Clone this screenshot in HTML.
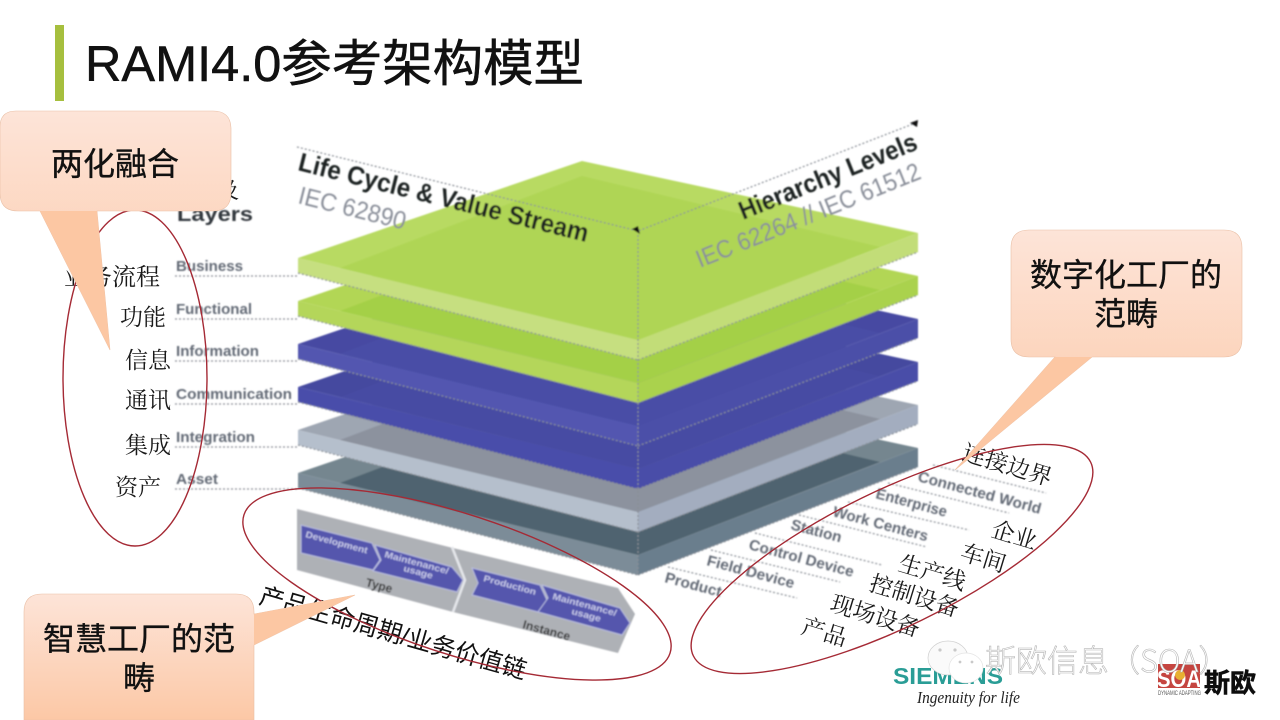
<!DOCTYPE html>
<html><head><meta charset="utf-8"><style>
html,body{margin:0;padding:0;background:#fff}
svg{display:block}
.s{font-family:"Liberation Sans","Noto Sans CJK SC",sans-serif}
.z{font-family:"Liberation Serif","Noto Serif CJK SC",serif;fill:#1a1a1a;font-size:23px}
.g{font-family:"Liberation Sans",sans-serif;font-weight:bold;fill:#636a76;font-size:15px}
.d{stroke:#8a8f96;stroke-width:1.2;stroke-dasharray:2 2;fill:none}
.w{font-family:"Liberation Sans",sans-serif;font-size:9px;fill:#c6c8e8;font-weight:bold}
.c{font-family:"Liberation Sans","Noto Sans CJK SC",sans-serif;font-size:32px;fill:#111;text-anchor:middle;stroke:#111;stroke-width:.35}
</style></head><body>
<svg width="1280" height="720" viewBox="0 0 1280 720" xmlns="http://www.w3.org/2000/svg">
<defs>
<linearGradient id="pe" x1="0" y1="0" x2="0" y2="1"><stop offset="0" stop-color="#fde4d8"/><stop offset="1" stop-color="#fcc8a6"/></linearGradient>
<filter id="b" x="-5%" y="-5%" width="110%" height="110%"><feGaussianBlur stdDeviation="0.7"/></filter>
<filter id="b2" x="-5%" y="-5%" width="110%" height="110%"><feGaussianBlur stdDeviation="0.35"/></filter>
</defs>
<rect width="1280" height="720" fill="#fff"/>
<rect x="55" y="25" width="9" height="76" fill="#a6bf3e"/>
<text x="85" y="81" class="s" font-size="50" fill="#111" stroke="#111" stroke-width=".5" textLength="499" lengthAdjust="spacingAndGlyphs">RAMI4.0参考架构模型</text>

<g filter="url(#b)">
<!-- plates -->
<g transform="translate(0,215)"><polygon points="298,258 582,161 918,233 638,340" fill="#75868f"/><polygon points="340,268 582,176 880,247 638,340" fill="#50636f"/><polygon points="298,258 638,340 638,360 298,273" fill="#7b8c98"/><polygon points="638,340 918,233 918,252 638,360" fill="#6b7e8d"/></g>
<g transform="translate(0,172)"><polygon points="298,258 582,161 918,233 638,340" fill="#9ea6b2"/><polygon points="340,268 582,176 880,247 638,340" fill="#8c929e"/><polygon points="298,258 638,340 638,360 298,273" fill="#b5bfcc"/><polygon points="638,340 918,233 918,252 638,360" fill="#a3adbf"/></g>
<g transform="translate(0,129)"><polygon points="298,258 582,161 918,233 638,340" fill="#44489f"/><polygon points="340,268 582,176 880,247 638,340" fill="#474ba3"/><polygon points="298,258 638,340 638,360 298,273" fill="#4a4eaa"/><polygon points="638,340 918,233 918,252 638,360" fill="#4a4ea8"/></g>
<g transform="translate(0,86)"><polygon points="298,258 582,161 918,233 638,340" fill="#464aa2"/><polygon points="340,268 582,176 880,247 638,340" fill="#4a4ea6"/><polygon points="298,258 638,340 638,360 298,273" fill="#5357b0"/><polygon points="638,340 918,233 918,252 638,360" fill="#4c50a8"/></g>
<g transform="translate(0,43)"><polygon points="298,258 582,161 918,233 638,340" fill="#b2d655"/><polygon points="340,268 582,176 880,247 638,340" fill="#a4d047"/><polygon points="298,258 638,340 638,360 298,273" fill="#b4d65a"/><polygon points="638,340 918,233 918,252 638,360" fill="#aad24d"/></g>
<g><polygon points="298,258 582,161 918,233 638,340" fill="#b8da62"/><polygon points="340,268 582,176 880,247 638,340" fill="#afd555"/><polygon points="298,258 638,340 638,360 298,273" fill="#c6df80"/><polygon points="638,340 918,233 918,252 638,360" fill="#c2dd78"/></g>

<!-- axes -->
<path class="d" d="M297,147 L638,231 L918,122 M638,231 L638,575"/>
<path class="d" d="M638,360 L918,252 M298,273 L638,360 M638,403 L918,295 M298,316 L638,403 M638,446 L918,338 M298,359 L638,446 M638,489 L918,381 M298,402 L638,489 M638,532 L918,424 M298,445 L638,532 M638,575 L918,467 M298,488 L638,575"/>
<polygon points="632,229 638,226 640,234" fill="#111"/>
<polygon points="910,123 918,120 917,127" fill="#111"/>

<!-- left dotted -->
<path class="d" d="M175,276 H298 M175,319 H298 M175,361 H298 M175,404 H298 M175,447 H298 M175,489 H298"/>
<text x="177" y="221" class="s" font-size="20" font-weight="bold" fill="#33373d" textLength="76" lengthAdjust="spacingAndGlyphs">Layers</text>
<text class="g" x="176" y="271" textLength="67" lengthAdjust="spacingAndGlyphs">Business</text>
<text class="g" x="176" y="314" textLength="76" lengthAdjust="spacingAndGlyphs">Functional</text>
<text class="g" x="176" y="356" textLength="83" lengthAdjust="spacingAndGlyphs">Information</text>
<text class="g" x="176" y="399" textLength="116" lengthAdjust="spacingAndGlyphs">Communication</text>
<text class="g" x="176" y="442" textLength="79" lengthAdjust="spacingAndGlyphs">Integration</text>
<text class="g" x="176" y="484" textLength="42" lengthAdjust="spacingAndGlyphs">Asset</text>

<!-- axis labels -->
<text transform="translate(297,170) rotate(14)" class="s" font-size="26" font-weight="bold" fill="#1c2320" textLength="298" lengthAdjust="spacingAndGlyphs">Life Cycle &amp; Value Stream</text>
<text transform="translate(297,203) rotate(14)" class="s" font-size="25" fill="#8a8f9a" textLength="110" lengthAdjust="spacingAndGlyphs">IEC 62890</text>
<text transform="translate(743,220) rotate(-22)" class="s" font-size="26" font-weight="bold" fill="#1c2320" textLength="190" lengthAdjust="spacingAndGlyphs">Hierarchy Levels</text>
<text transform="translate(700,268) rotate(-22)" class="s" font-size="25" fill="#8a8f9a" textLength="240" lengthAdjust="spacingAndGlyphs">IEC 62264 // IEC 61512</text>

<!-- right dotted -->
<path class="d" d="M933,465 L1046,493 M888,483 L1009,513 M848,502 L969,530 M799,515 L927,547 M755,533 L882,565 M711,550 L840,582 M668,567 L797,598"/>
<text class="g" transform="translate(917,481) rotate(15)" font-size="17" textLength="127" lengthAdjust="spacingAndGlyphs">Connected World</text>
<text class="g" transform="translate(875,498) rotate(15)" font-size="16" textLength="73" lengthAdjust="spacingAndGlyphs">Enterprise</text>
<text class="g" transform="translate(832,516) rotate(15)" font-size="16" textLength="98" lengthAdjust="spacingAndGlyphs">Work Centers</text>
<text class="g" transform="translate(790,529) rotate(15)" font-size="16" textLength="52" lengthAdjust="spacingAndGlyphs">Station</text>
<text class="g" transform="translate(748,549) rotate(15)" font-size="16" textLength="108" lengthAdjust="spacingAndGlyphs">Control Device</text>
<text class="g" transform="translate(706,565) rotate(15)" font-size="16" textLength="90" lengthAdjust="spacingAndGlyphs">Field Device</text>
<text class="g" transform="translate(664,582) rotate(15)" font-size="16" textLength="58" lengthAdjust="spacingAndGlyphs">Product</text>

<!-- bottom band -->
<polygon points="297,509 453,548 618,588 635,614 618,653 453,612 297,570" fill="#aeb1b6"/>
<path d="M452,547 L465,580 L453,612" fill="none" stroke="#e4e6ea" stroke-width="2.5"/>
<g stroke="#b9bde0" stroke-width="1">
<polygon points="301,525 372,543 380,560 373,570 301,553" fill="#5556ad"/>
<polygon points="375,545 452,567 463,580 457,592 373,571 381,560" fill="#5556ad"/>
<polygon points="472,568 540,585 547,600 538,612 472,595 478,583" fill="#5556ad"/>
<polygon points="542,585 620,608 630,623 622,635 538,612 548,598" fill="#5556ad"/>
</g>
<text class="w" transform="translate(305,537) rotate(15)" textLength="64" lengthAdjust="spacingAndGlyphs">Development</text>
<text class="w" transform="translate(384,557) rotate(15)" textLength="66" lengthAdjust="spacingAndGlyphs">Maintenance/</text>
<text class="w" transform="translate(403,571) rotate(15)" textLength="30" lengthAdjust="spacingAndGlyphs">usage</text>
<text class="w" transform="translate(483,581) rotate(15)" textLength="54" lengthAdjust="spacingAndGlyphs">Production</text>
<text class="w" transform="translate(552,599) rotate(15)" textLength="66" lengthAdjust="spacingAndGlyphs">Maintenance/</text>
<text class="w" transform="translate(571,614) rotate(15)" textLength="30" lengthAdjust="spacingAndGlyphs">usage</text>
<text transform="translate(365,586) rotate(15)" class="s" font-size="12" font-weight="bold" fill="#333">Type</text>
<text transform="translate(522,628) rotate(15)" class="s" font-size="12" font-weight="bold" fill="#333">Instance</text>
</g>

<!-- Chinese labels -->
<text class="z" x="64" y="285" style="font-size:24px">业务流程</text>
<text class="z" x="120" y="325">功能</text>
<text class="z" x="125" y="368">信息</text>
<text class="z" x="125" y="408">通讯</text>
<text class="z" x="125" y="453">集成</text>
<text class="z" x="115" y="495">资产</text>
<text class="z" x="217" y="198" style="font-size:22px">及</text>
<g class="z">
<text class="z" transform="translate(961,459) rotate(17)">连接边界</text>
<text class="z" transform="translate(990,536) rotate(17)">企业</text>
<text class="z" transform="translate(959,559) rotate(17)">车间</text>
<text class="z" transform="translate(897,570) rotate(17)">生产线</text>
<text class="z" transform="translate(868,590) rotate(17)">控制设备</text>
<text class="z" transform="translate(829,610) rotate(17)">现场设备</text>
<text class="z" transform="translate(800,633) rotate(17)">产品</text>
</g>
<text transform="translate(258,603) rotate(16)" class="s" font-size="24.5" fill="#111">产品生命周期/业务价值链</text>

<!-- ellipses -->
<g fill="none" stroke="#a52a35" stroke-width="1.4">
<ellipse cx="135" cy="378" rx="72" ry="168"/>
<ellipse cx="457" cy="584" rx="224" ry="70" transform="rotate(18 457 584)"/>
<ellipse cx="892" cy="559" rx="221" ry="68" transform="rotate(-26 892 559)"/>
</g>

<!-- callouts -->
<path d="M16,111 H213 Q231,111 231,129 V193 Q231,211 213,211 H97 L110,350 L40,211 H18 Q0,211 0,193 V127 Q0,111 16,111 Z" fill="url(#pe)" stroke="#e9bfa5" stroke-width="0.6"/>
<polygon points="40,211 97,211 110,350" fill="#fcc7a3"/>
<text class="c" x="115" y="175">两化融合</text>

<path d="M1029,230 H1224 Q1242,230 1242,248 V339 Q1242,357 1224,357 H1092 L955,470 L1055,357 H1029 Q1011,357 1011,339 V248 Q1011,230 1029,230 Z" fill="url(#pe)" stroke="#e9bfa5" stroke-width="0.6"/>
<polygon points="1055,357 1092,357 955,470" fill="#fcc7a3"/>
<text class="c" x="1126" y="286">数字化工厂的</text>
<text class="c" x="1126" y="325">范畴</text>

<path d="M42,594 H236 Q254,594 254,612 V614 L355,595 L254,645 V720 H24 V612 Q24,594 42,594 Z" fill="url(#pe)" stroke="#e9bfa5" stroke-width="0.6"/>
<polygon points="254,614 355,595 254,645" fill="#fcc7a3"/>
<text class="c" x="139" y="650">智慧工厂的范</text>
<text class="c" x="139" y="689">畴</text>

<!-- logos -->
<g filter="url(#b2)">
<text x="893" y="684" class="s" font-size="23" font-weight="bold" fill="#2a9d96" textLength="110" lengthAdjust="spacingAndGlyphs">SIEMENS</text>
<text x="917" y="703" font-family="'Liberation Serif',serif" font-style="italic" font-size="17" fill="#222" textLength="103" lengthAdjust="spacingAndGlyphs">Ingenuity for life</text>
<rect x="1158" y="664" width="42" height="24" fill="#c5453f"/>
<text x="1157" y="687" class="s" font-size="24" font-weight="bold" fill="#fff" textLength="44" lengthAdjust="spacingAndGlyphs">SOA</text>
<circle cx="1180" cy="675" r="5" fill="#e8b030"/>
<text x="1158" y="695" class="s" font-size="6" fill="#555" textLength="43" lengthAdjust="spacingAndGlyphs">DYNAMIC ADAPTING</text>
<text x="1204" y="692" font-family="'Noto Sans CJK SC',sans-serif" font-weight="bold" font-size="26" fill="#111" stroke="#111" stroke-width=".6">斯欧</text>
</g>
<g fill="#fff" stroke="#cfcfcf" stroke-width="0.7">
<ellipse cx="948" cy="658" rx="20" ry="17" fill="#fafafa"/>
<ellipse cx="966" cy="668" rx="17" ry="15" stroke="#e4e4e4"/>
</g>
<g fill="#c9c9c9"><circle cx="940" cy="650" r="1.6"/><circle cx="955" cy="650" r="1.6"/><circle cx="960" cy="662" r="1.4"/><circle cx="972" cy="662" r="1.4"/></g>
<text x="985" y="672" font-family="'Noto Sans CJK SC',sans-serif" font-weight="300" font-size="31" fill="#fff" stroke="#b5b5b5" stroke-width="0.6">斯欧信息（SOA）</text>
</svg>
</body></html>
